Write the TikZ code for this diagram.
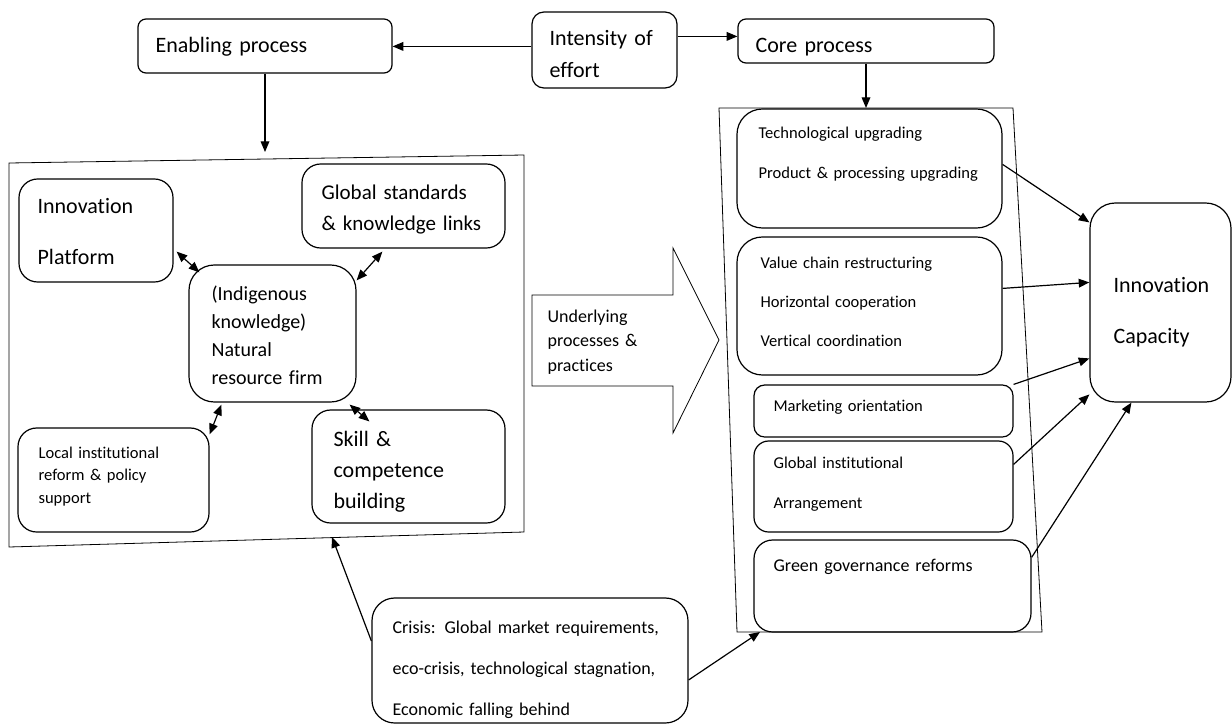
\documentclass[tikz,border=0pt]{standalone}
\usepackage{fontspec}
\setmainfont{Carlito}[Ligatures=NoCommon]
\usepackage{tikz}
\usetikzlibrary{arrows.meta}
\usetikzlibrary{calc,fit}

\begin{document}
\begin{tikzpicture}[x=0.75pt,y=-0.75pt,>={Triangle[length=8pt,width=6.5pt]},line width=0.9pt,
                    box node/.style={draw,inner sep=0pt,rounded corners=#1},
                    box node/.default=10pt,
                    text node/.style={anchor=base west,inner sep=0pt,align=left,text width=260pt}]

  \useasboundingbox (0,0) rectangle (1232,725);

  % boxes
  \node[box node=6pt,fit={(138,19) (392,73)}] (1) {};
  \node[box node=9pt,fit={(532,12) (677,88)}] (2) {};
  \node[box node=6pt,fit={(738,19) (994,63)}] (3) {};
  \node[box node=14pt,fit={(19,179) (173,282)}] (4) {};
  \node[box node=14pt,fit={(302,164) (505,248)}] (5) {};
  \node[box node=19pt,fit={(189,265) (356,402)}] (6) {};
  \node[box node=14pt,fit={(18,428) (209,532)}] (7) {};
  \node[box node=14pt,fit={(312,410) (505,523)}] (8) {};
  \node[box node=19pt,fit={(737,109) (1002,228)}] (9) {};
  \node[box node=19pt,fit={(737,237) (1002,375)}] (10) {};
  \node[box node=8pt,fit={(754,385) (1013,437)}] (11) {};
  \node[box node=11pt,fit={(754,441) (1013,532)}] (12) {};
  \node[box node=14pt,fit={(754,540) (1031,632)}] (13) {};
  \node[box node=19pt,fit={(1090,203) (1231,402)}] (14) {};
  \node[box node=17pt,fit={(372,598) (688,723)}] (15) {};

  % texts
  \node[text node,font={\fontsize{16.5}{24}\selectfont}] (t1) at (155,52) {Enabling process};
  \node[text node,font={\fontsize{16.5}{24}\selectfont}] (t2) at (549,45) {Intensity of\\effort};
  \node[text node,font={\fontsize{16.5}{24}\selectfont}] (t3) at (755,52) {Core process};
  \node[text node,font={\fontsize{16.5}{38.25}\selectfont}] (t4) at (37,213) {Innovation\\Platform};
  \node[text node,font={\fontsize{15.75}{23.25}\selectfont}] (t5) at (321,199) {Global standards\\\& knowledge links};
  \node[text node,font={\fontsize{15}{21}\selectfont}] (t6) at (211,300) {(Indigenous\\knowledge)\\Natural\\resource firm};
  \node[text node,font={\fontsize{12.4}{16.9}\selectfont}] (t7) at (38,458) {Local institutional\\reform \& policy\\support};
  \node[text node,font={\fontsize{16.5}{23.25}\selectfont}] (t8) at (333,446) {Skill \&\\competence\\building};
  \node[text node,font={\fontsize{13.5}{18.4}\selectfont}] (t9) at (547,322) {Underlying\\processes \&\\practices};
  \node[text node,font={\fontsize{12.4}{30}\selectfont}] (t10) at (758,138) {Technological upgrading\\Product \& processing upgrading};
  \node[text node,font={\fontsize{12.4}{29.6}\selectfont}] (t11) at (760,268) {Value chain restructuring\\Horizontal cooperation\\Vertical coordination};
  \node[text node,font={\fontsize{12.4}{30}\selectfont}] (t12) at (773,411) {Marketing orientation};
  \node[text node,font={\fontsize{12.4}{30}\selectfont}] (t13) at (773,468) {Global institutional\\Arrangement};
  \node[text node,font={\fontsize{13.5}{30}\selectfont}] (t14) at (773,571) {Green governance reforms};
  \node[text node,font={\fontsize{16.5}{38.25}\selectfont}] (t15) at (1113,292) {Innovation\\Capacity};
  \node[text node,font={\fontsize{13.5}{31.1}\selectfont}] (t16) at (392,633) {Crisis: Global market requirements,\\eco-crisis, technological stagnation,\\Economic falling behind};

  % frames and the big arrow
  \draw[line width=0.6pt] (9,163) -- (524,155) -- (524,532) -- (9,547) -- cycle;
  \draw[line width=0.6pt] (719,108) -- (1013,108) -- (1042,632) -- (737,632) -- cycle;
  \draw[line width=0.6pt] (532,295) -- (673,295) -- (673,248) -- (719,340)
    -- (673,433) -- (673,386) -- (532,386) -- cycle;
  \coordinate (lq) at (265,152);
  \coordinate (rq) at (866,108);
  \coordinate (lqb) at (332,537);
  \coordinate (rqb) at (760,632);

  \path[->]
    ($(2.north west)+(0,35)$) edge ($(1.north east)+(0,28)$)
    ($(2.north east)+(0,25)$) edge ($(3.north west)+(0,18)$)
    (1) edge (lq)
    (3) edge (rq)
    (15.173) edge (lqb)
    (15.-7) edge (rqb)
    ($(9.north east)+(0,56)$) edge ($(14.north west)+(0,20)$)
    ($(10.north east)+(0,52)$) edge ($(14.north west)+(0,80)$)
    (11.north east) edge ($(14.north west)+(0,156)$)
    ($(12.north east)+(0,24)$) edge ($(14.north west)+(0,192)$)
    ($(13.north east)+(0,18)$) edge ($(14.south west)+(42,0)$);

  \path[<->]
    ($(4.south east)+(3,-31)$) edge ($(6.north west)+(11,8)$)
    ($(5.south west)+(81,3)$) edge ($(6.north east)+(0,16)$)
    ($(6.south west)+(33,2)$) edge ($(7.north east)+(0,7)$)
    ($(6.south east)+(-7,2)$) edge ($(8.north west)+(58,12)$);
\end{tikzpicture}
\end{document}
